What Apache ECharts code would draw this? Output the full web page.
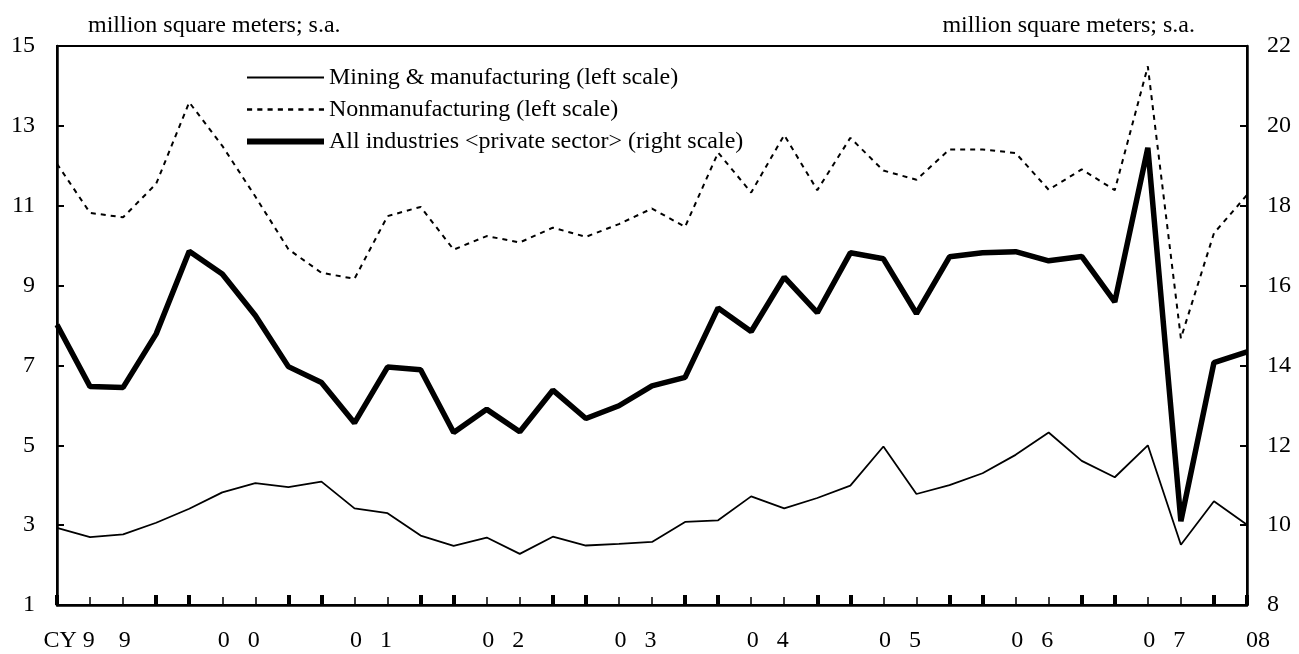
<!DOCTYPE html>
<html>
<head>
<meta charset="UTF-8">
<title>Construction starts</title>
<script src="https://cdn.jsdelivr.net/npm/echarts@6/dist/echarts.min.js"></script>
<style>
  html, body { margin: 0; padding: 0; background: #fff; }
  #main { width: 1299px; height: 654px; }
</style>
</head>
<body>
<div id="main"></div>
<script type="text/javascript">
// quarters 1999Q1 .. 2008Q1
var quarters = [];
for (var y = 1999; y <= 2008; y++) {
  for (var q = 1; q <= 4; q++) {
    if (y === 2008 && q > 1) break;
    quarters.push(y + 'Q' + q);
  }
}

// left scale
var mining = [2.93, 2.70, 2.77, 3.06, 3.41, 3.82, 4.05, 3.95, 4.09, 3.42, 3.30, 2.74, 2.48,
  2.69, 2.28, 2.71, 2.49, 2.53, 2.58, 3.08, 3.12, 3.72, 3.42, 3.68, 3.99, 4.97, 3.78,
  4.00, 4.30, 4.76, 5.32, 4.61, 4.20, 5.00, 2.51, 3.60, 3.01];
var nonmanu = [12.05, 10.82, 10.71, 11.55, 13.59, 12.50, 11.23, 9.91, 9.32, 9.17, 10.74, 10.97, 9.90,
  10.24, 10.08, 10.45, 10.22, 10.54, 10.93, 10.47, 12.33, 11.33, 12.77, 11.39, 12.70, 11.88, 11.65,
  12.41, 12.41, 12.32, 11.40, 11.91, 11.39, 14.49, 7.68, 10.31, 11.27];
// right scale
var allInd = [15.02, 13.47, 13.45, 14.79, 16.86, 16.29, 15.25, 13.97, 13.57, 12.56, 13.96, 13.89, 12.32,
  12.90, 12.34, 13.38, 12.67, 12.99, 13.49, 13.70, 15.44, 14.85, 16.21, 15.32, 16.82, 16.67, 15.30,
  16.72, 16.82, 16.85, 16.62, 16.73, 15.59, 19.45, 10.10, 14.07, 14.34];

var leftTicks = [1, 3, 5, 7, 9, 11, 13, 15];
var yearLabels = ['9    9', '0   0', '0   1', '0   2', '0   3', '0   4', '0   5', '0   6', '0   7', '08'];

var FONT = 'Liberation Serif';
var names = ['Mining & manufacturing (left scale)', 'Nonmanufacturing (left scale)',
  'All industries <private sector> (right scale)'];

// year label sits mid-year (between Q2 and Q3), last one on the final point
var yearPos = yearLabels.map(function (t, i) {
  return i < yearLabels.length - 1 ? i * 4 + 1.5 : quarters.length - 1;
});

// legend swatches: plain bars / dashes (no symbol dot)
function bar(h) { return 'path://M0,0H77V' + h + 'H0Z'; }
function dashes(h) {
  var p = 'path://';
  for (var x = 0; x < 77; x += 10) p += 'M' + x + ',0h5v' + h + 'h-5Z';
  return p;
}

var myChart = echarts.init(document.getElementById('main'));

var option = {
  backgroundColor: '#fff',
  animation: false,
  title: [
    { text: 'million square meters; s.a.', left: 83, top: 9,
      textStyle: { fontFamily: FONT, fontSize: 24, fontWeight: 'normal', color: '#000' } },
    { text: 'million square meters; s.a.', right: 99, top: 9,
      textStyle: { fontFamily: FONT, fontSize: 24, fontWeight: 'normal', color: '#000' } }
  ],
  legend: {
    orient: 'vertical',
    left: 242,
    top: 60,
    itemWidth: 77,
    itemHeight: 14,
    itemGap: 7,
    symbolKeepAspect: true,
    itemStyle: { borderWidth: 0 },
    data: [
      { name: names[0], icon: bar(2) },
      { name: names[1], icon: dashes(2.5) },
      { name: names[2], icon: bar(6) }
    ],
    textStyle: { fontFamily: FONT, fontSize: 24, color: '#000', lineHeight: 25 }
  },
  grid: {
    left: 57, right: 52, top: 46, bottom: 49,
    show: true, borderColor: '#000', borderWidth: 2
  },
  xAxis: [
    {
      type: 'category', data: quarters, boundaryGap: false,
      axisLine: { lineStyle: { color: '#000', width: 2.5 } },
      axisTick: { inside: true, interval: 0, length: 8, lineStyle: { color: '#000', width: 1.5 } },
      axisLabel: { show: false },
      splitLine: { show: false }
    },
    {
      type: 'category', data: quarters, boundaryGap: false, position: 'bottom',
      axisLine: { show: false },
      axisTick: {
        inside: true, length: 10,
        interval: function (idx) { var q = idx % 4; return q === 0 || q === 3; },
        lineStyle: { color: '#000', width: 4 }
      },
      axisLabel: { show: false },
      splitLine: { show: false }
    },
    {
      type: 'value', min: 0, max: quarters.length - 1, position: 'bottom',
      axisLine: { show: false },
      axisTick: { show: false },
      splitLine: { show: false },
      axisLabel: {
        customValues: yearPos,
        margin: 24,
        fontFamily: FONT, fontSize: 24, color: '#000',
        formatter: function (v) {
          var i = yearPos.indexOf(v);
          if (i < 0) return '';
          if (i === 0) return '{cy|CY }' + yearLabels[0] + '{sp|}';
          if (i === yearLabels.length - 1) return '{lead|}' + yearLabels[i];
          return yearLabels[i];
        },
        rich: {
          cy: { fontFamily: FONT, fontSize: 24, color: '#000' },
          sp: { width: 39 },
          lead: { width: 22 }
        }
      }
    }
  ],
  yAxis: [
    {
      type: 'value', min: 1, max: 15, position: 'left',
      axisLine: { show: true, lineStyle: { color: '#000', width: 2.5 } },
      axisTick: { show: true, inside: true, length: 7, customValues: leftTicks,
        lineStyle: { color: '#000', width: 2 } },
      axisLabel: { customValues: leftTicks, margin: 22, fontFamily: FONT, fontSize: 24, color: '#000' },
      splitLine: { show: false }
    },
    {
      type: 'value', min: 8, max: 22, interval: 2, position: 'right',
      axisLine: { show: true, lineStyle: { color: '#000', width: 2.5 } },
      axisTick: { show: true, inside: true, length: 7, lineStyle: { color: '#000', width: 2 } },
      axisLabel: { margin: 20, fontFamily: FONT, fontSize: 24, color: '#000' },
      splitLine: { show: false }
    }
  ],
  series: [
    {
      name: names[0], type: 'line', data: mining, xAxisIndex: 0, yAxisIndex: 0,
      symbol: 'none', color: '#000',
      lineStyle: { color: '#000', width: 1.8 }
    },
    {
      name: names[1], type: 'line', data: nonmanu, xAxisIndex: 0, yAxisIndex: 0,
      symbol: 'none', color: '#000',
      lineStyle: { color: '#000', width: 2, type: [5, 5] }
    },
    {
      name: names[2], type: 'line', data: allInd, xAxisIndex: 0, yAxisIndex: 1,
      symbol: 'none', color: '#000',
      lineStyle: { color: '#000', width: 5.5 }
    }
  ]
};

myChart.setOption(option);
</script>
</body>
</html>
